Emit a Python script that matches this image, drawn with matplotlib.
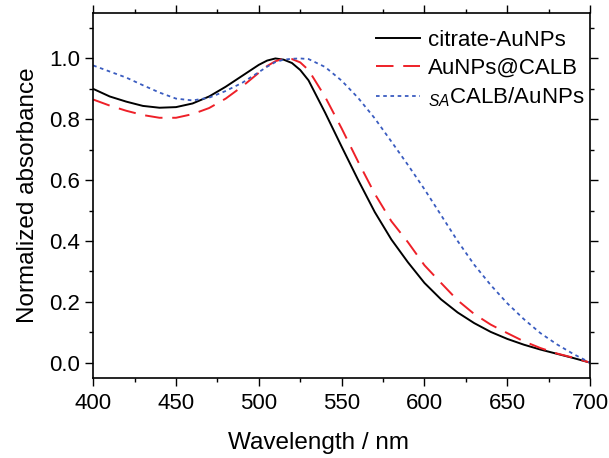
import matplotlib
matplotlib.use("Agg")
import matplotlib.pyplot as plt
from matplotlib.ticker import MultipleLocator

plt.rcParams['font.family'] = ['Liberation Sans', 'DejaVu Sans']
plt.rcParams['mathtext.fontset'] = 'custom'
plt.rcParams['mathtext.rm'] = 'Liberation Sans'
plt.rcParams['mathtext.it'] = 'Liberation Sans:italic'

wavelength = [400, 410, 420, 430, 440, 450, 460, 470, 480, 490, 500, 505, 510, 515,
              520, 525, 530, 540, 550, 560, 570, 580, 590, 600, 610, 620, 630, 640,
              650, 660, 670, 680, 690, 700]

citrate = [0.900, 0.875, 0.858, 0.844, 0.838, 0.840, 0.852, 0.875, 0.907, 0.943,
           0.979, 0.993, 1.000, 0.996, 0.985, 0.962, 0.928, 0.822, 0.710, 0.600,
           0.495, 0.405, 0.330, 0.262, 0.208, 0.165, 0.130, 0.101, 0.078, 0.059,
           0.043, 0.029, 0.015, 0.000]

calb = [0.865, 0.845, 0.828, 0.814, 0.805, 0.805, 0.817, 0.837, 0.868, 0.908,
        0.953, 0.975, 0.991, 0.999, 0.998, 0.987, 0.962, 0.874, 0.770, 0.660,
        0.555, 0.465, 0.396, 0.320, 0.262, 0.205, 0.160, 0.125, 0.097, 0.070,
        0.048, 0.030, 0.016, 0.000]

sa_calb = [0.977, 0.957, 0.937, 0.912, 0.888, 0.868, 0.862, 0.871, 0.893, 0.920,
           0.955, 0.973, 0.988, 0.996, 0.999, 1.000, 0.998, 0.972, 0.927, 0.870,
           0.803, 0.727, 0.650, 0.570, 0.485, 0.400, 0.322, 0.255, 0.195, 0.143,
           0.097, 0.060, 0.028, 0.000]

labels = ['citrate-AuNPs', 'AuNPs@CALB', r'$_{\mathit{SA}}$CALB/AuNPs']

fig = plt.figure(figsize=(6.09, 4.58), dpi=100)
ax = fig.add_axes([0.153, 0.175, 0.816, 0.797])

ax.plot(wavelength, citrate, color='black', lw=1.4, label=labels[0])
ax.plot(wavelength, calb, color='#ee2028', lw=1.4, dashes=(9, 5), label=labels[1])
ax.plot(wavelength, sa_calb, color='#3a5cc0', lw=1.3, dashes=(2, 2), label=labels[2])

ax.set_xlim(400, 700)
ax.set_ylim(-0.05, 1.15)
ax.xaxis.set_major_locator(MultipleLocator(50))
ax.xaxis.set_minor_locator(MultipleLocator(25))
ax.yaxis.set_major_locator(MultipleLocator(0.2))
ax.yaxis.set_minor_locator(MultipleLocator(0.1))
ax.yaxis.set_major_formatter(plt.FormatStrFormatter('%.1f'))

ax.tick_params(which='both', direction='out', labelsize=16, width=1,
               top=True, right=True)
ax.tick_params(which='major', length=6)
ax.tick_params(which='minor', length=3)
ax.tick_params(axis='x', pad=5)
for sp in ax.spines.values():
    sp.set_linewidth(1.2)

ax.set_xlabel('Wavelength / nm', fontsize=17.5, va='top')
ax.xaxis.set_label_coords(0.453, -0.148)
ax.set_ylabel('Normalized absorbance', fontsize=17.5, labelpad=7)

ax.legend(loc='upper right', frameon=False, fontsize=16, handlelength=2.0,
          handletextpad=0.35, labelspacing=0.3, borderaxespad=0.3,
          bbox_to_anchor=(1.02, 0.995))

fig.savefig('out.png', dpi=100)
